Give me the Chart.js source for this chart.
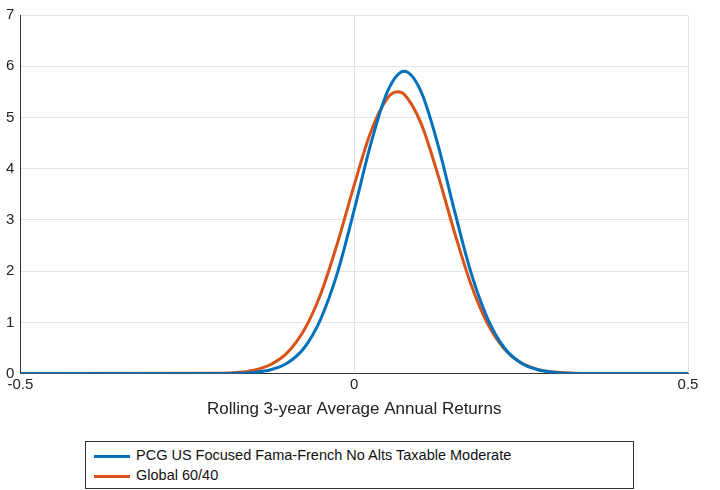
<!DOCTYPE html>
<html><head><meta charset="utf-8">
<script src="https://cdn.jsdelivr.net/npm/chart.js@4/dist/chart.umd.min.js"></script>
<style>
body{margin:0;background:#fff;font-family:"Liberation Sans",Arial,sans-serif;}
#wrap{position:absolute;left:0;top:0;width:710px;height:420px;}
#leg{position:absolute;left:85px;top:441px;width:547px;height:46px;border:1px solid #333;background:#fff;font-size:14.5px;color:#111;}
.it{position:absolute;left:8px;height:20px;line-height:20px;}
.ln{display:inline-block;width:36px;height:3px;vertical-align:middle;margin-right:6px;}
</style></head><body>
<div id="wrap"><canvas id="c"></canvas></div>
<div id="leg">
<div class="it" style="top:3px"><span class="ln" style="background:#0072BD"></span>PCG US Focused Fama-French No Alts Taxable Moderate</div>
<div class="it" style="top:23px"><span class="ln" style="background:#D95319"></span>Global 60/40</div>
</div>
<script>
const xs = [-0.5,-0.2,-0.175,-0.15,-0.125,-0.1,-0.075,-0.05,-0.025,0,0.025,0.05,0.075,0.1,0.125,0.15,0.175,0.2,0.225,0.25,0.275,0.3,0.325,0.35,0.5];
const blue = [0,0.0015,0.006,0.023,0.074,0.207,0.50,1.07,1.97,3.19,4.49,5.51,5.9,5.51,4.49,3.19,1.97,1.07,0.50,0.207,0.074,0.023,0.006,0.0015,0];
const orange = [0,0.007,0.023,0.068,0.178,0.41,0.85,1.56,2.55,3.68,4.72,5.38,5.45,4.89,3.90,2.77,1.74,0.97,0.48,0.21,0.083,0.029,0.009,0.003,0];
const orangePeakX = 0.065, orangePeakY = 5.5;
const oPts = xs.map((x,i)=>({x,y:orange[i]}));
oPts.splice(12,0,{x:orangePeakX,y:orangePeakY});
new Chart(document.getElementById('c'),{
type:'line',
data:{datasets:[
{data:xs.map((x,i)=>({x,y:blue[i]})),borderColor:'#0072BD',borderWidth:3,pointRadius:0,cubicInterpolationMode:'monotone'},
{data:oPts,borderColor:'#D95319',borderWidth:3,pointRadius:0,cubicInterpolationMode:'monotone'}
]},
options:{responsive:true,maintainAspectRatio:false,animation:false,
layout:{padding:{top:3,right:22}},
plugins:{legend:{display:false},tooltip:{enabled:false}},
scales:{
x:{type:'linear',min:-0.5,max:0.5,ticks:{stepSize:0.5,color:'#222',font:{size:15},padding:2,callback:v=>v===0?'0':String(v)},
 grid:{color:'#e3e3e3',drawTicks:false},border:{color:'#333'},
 title:{display:true,text:'Rolling 3-year Average Annual Returns',color:'#222',font:{size:17},padding:{top:4,bottom:0}}},
y:{min:0,max:7,ticks:{stepSize:1,color:'#222',font:{size:15},padding:6},grid:{color:'#e3e3e3',drawTicks:false},border:{color:'#333'}}
}}
});
</script></body></html>
